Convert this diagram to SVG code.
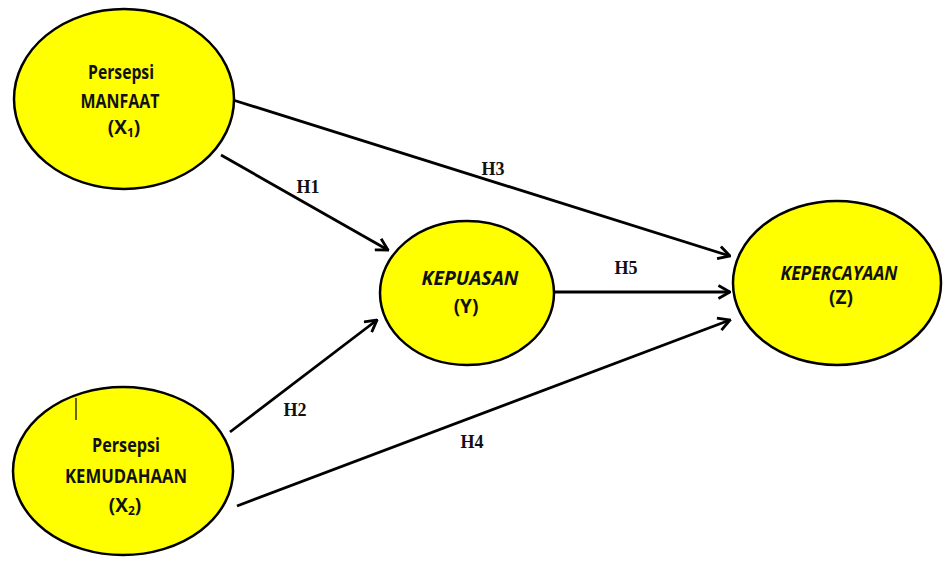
<svg xmlns="http://www.w3.org/2000/svg" width="943" height="562" viewBox="0 0 943 562">
  <style>
    .node { fill: #ffff00; stroke: #000; stroke-width: 2.5; }
    .nt { font-family: "Open Sans", "Liberation Sans", sans-serif; font-weight: bold; font-size: 19px; fill: #111; text-anchor: middle; }
    .it { font-style: italic; }
    .edge { stroke: #000; stroke-width: 2.8; fill: none; marker-end: url(#head); }
    .lbl { font-family: "Liberation Serif", "Times New Roman", serif; font-weight: bold; font-size: 18px; fill: #111; text-anchor: middle; }
  </style>
  <defs>
    <marker id="head" viewBox="0 0 12 12" refX="11" refY="6" markerWidth="5.5" markerHeight="5.5" orient="auto" markerUnits="strokeWidth">
      <path d="M2,1 L11,6 L2,11" fill="none" stroke="#000" stroke-width="2.2"/>
    </marker>
  </defs>
  <rect width="943" height="562" fill="#fff"/>

  <g id="connectors">
    <line class="edge" x1="233" y1="100" x2="730" y2="256"/>
    <line class="edge" x1="221" y1="155" x2="388" y2="250"/>
    <line class="edge" x1="555" y1="292" x2="730" y2="292"/>
    <line class="edge" x1="230" y1="432" x2="377" y2="320"/>
    <line class="edge" x1="237" y1="506" x2="730" y2="320"/>
    <text class="lbl" x="308" y="193">H1</text>
    <text class="lbl" x="493" y="175">H3</text>
    <text class="lbl" x="626" y="274">H5</text>
    <text class="lbl" x="295" y="416">H2</text>
    <text class="lbl" x="472" y="448">H4</text>
  </g>

  <g id="x1">
    <ellipse class="node" cx="124" cy="99" rx="110" ry="90"/>
    <text class="nt" x="121" y="79" textLength="66" lengthAdjust="spacingAndGlyphs">Persepsi</text>
    <text class="nt" x="120" y="108" textLength="79" lengthAdjust="spacingAndGlyphs">MANFAAT</text>
    <text class="nt" x="124" y="134">(X<tspan font-size="12" dy="3">1</tspan><tspan dy="-3">)</tspan></text>
  </g>

  <g id="x2">
    <ellipse class="node" cx="123" cy="471" rx="110" ry="84"/>
    <line x1="76" y1="398" x2="76" y2="420" stroke="#000" stroke-width="1.2"/>
    <text class="nt" x="126" y="452" textLength="68" lengthAdjust="spacingAndGlyphs">Persepsi</text>
    <text class="nt" x="126" y="483" textLength="122" lengthAdjust="spacingAndGlyphs">KEMUDAHAAN</text>
    <text class="nt" x="125" y="512">(X<tspan font-size="12" dy="3">2</tspan><tspan dy="-3">)</tspan></text>
  </g>

  <g id="y">
    <ellipse class="node" cx="467" cy="293" rx="87" ry="72"/>
    <text class="nt it" x="470" y="285" textLength="97" lengthAdjust="spacingAndGlyphs">KEPUASAN</text>
    <text class="nt" x="466" y="313">(Y)</text>
  </g>

  <g id="z">
    <ellipse class="node" cx="837" cy="283" rx="104" ry="82"/>
    <text class="nt it" x="839" y="280" textLength="117" lengthAdjust="spacingAndGlyphs">KEPERCAYAAN</text>
    <text class="nt" x="841" y="304">(Z)</text>
  </g>
</svg>
